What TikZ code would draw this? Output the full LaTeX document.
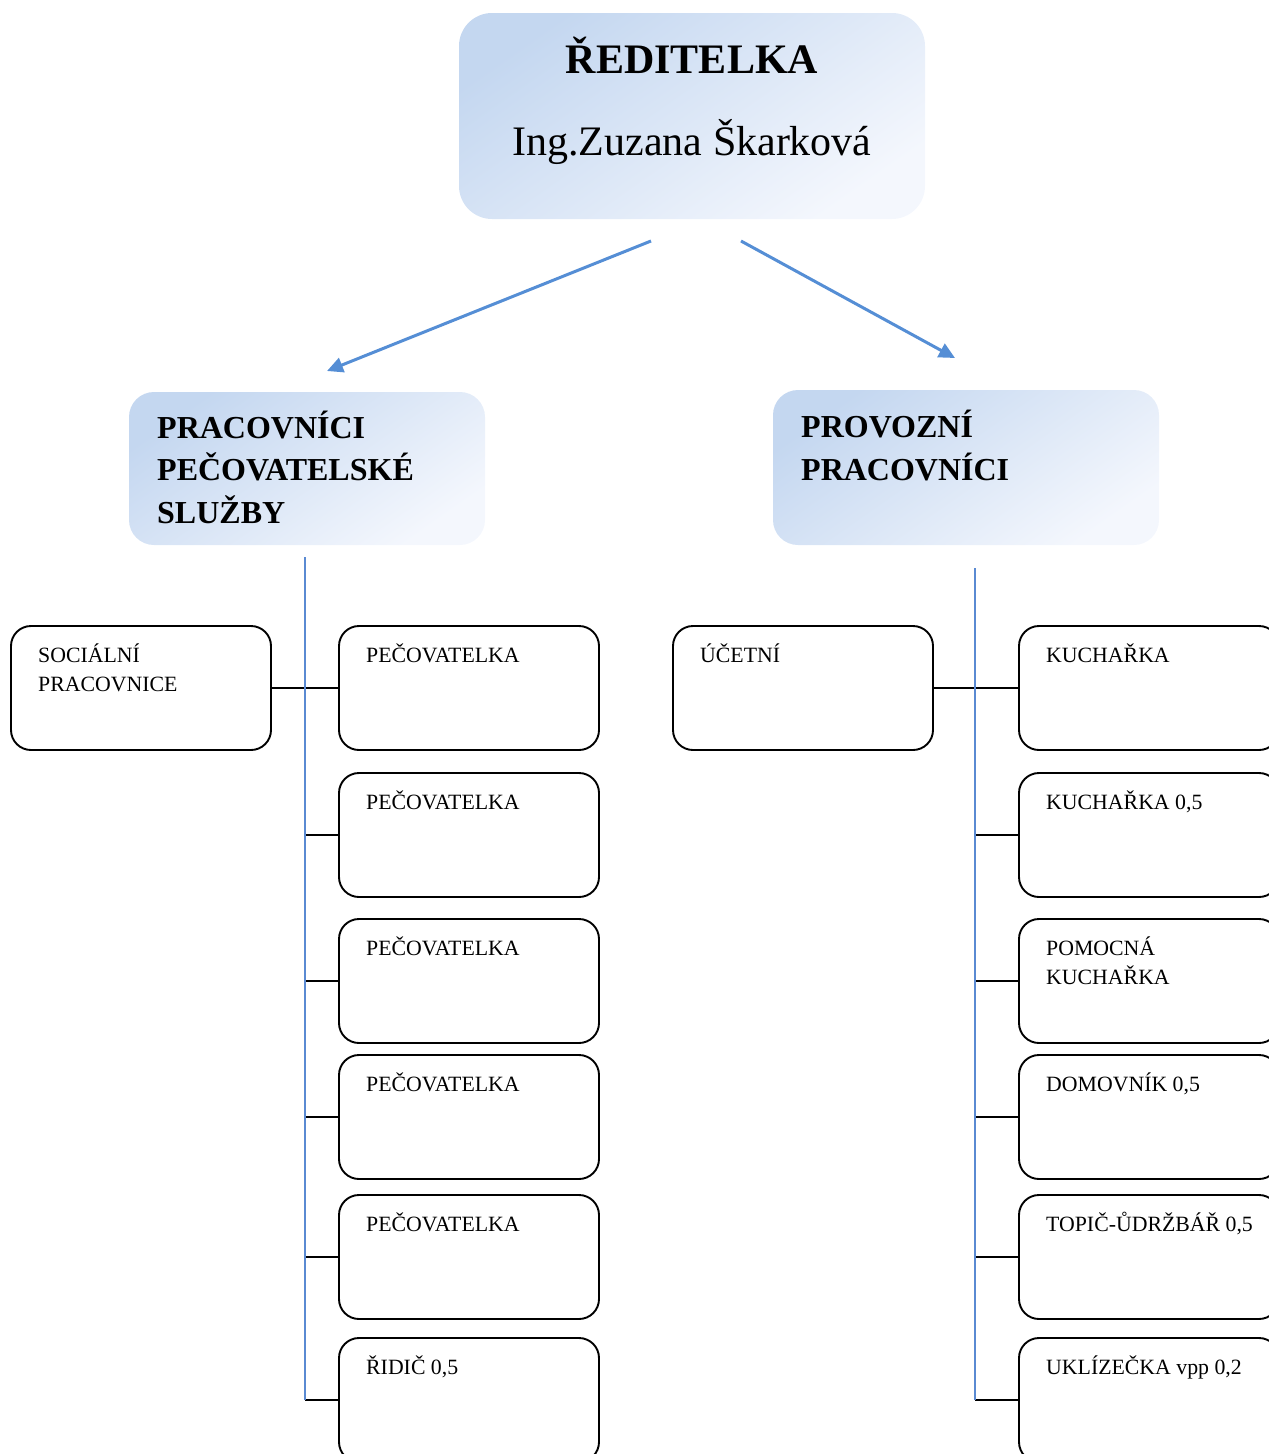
\documentclass[tikz,border=0pt]{standalone}
\usepackage{fontspec}
\setmainfont{Liberation Serif}
\usetikzlibrary{arrows.meta}
\definecolor{arrowblue}{HTML}{558ED5}
\definecolor{lineblue}{HTML}{5A8AD2}
\definecolor{gradA}{HTML}{C4D7F0}
\definecolor{gradB}{HTML}{F4F7FD}
\begin{document}
\begin{tikzpicture}[x=1pt,y=-1pt,
  headbox/.style={rounded corners=#1, inner sep=0pt, outer sep=0pt, anchor=north west,
    top color=gradA, bottom color=gradB, shading angle=35},
  rolebox/.style={draw=black, line width=1.9pt, rounded corners=20pt, inner sep=0pt, outer sep=0pt,
    anchor=north west, minimum width=260pt, minimum height=124pt},
  roletext/.style={anchor=base west, inner sep=0pt, align=left, font=\fontsize{21.8}{29}\selectfont},
  headtext/.style={anchor=base west, inner sep=0pt, align=left, font=\fontsize{32}{42.5}\selectfont\bfseries},
  conn/.style={draw=black, line width=1.9pt},
  vline/.style={draw=lineblue, line width=2.2pt},
  arrowline/.style={draw=arrowblue, line width=3pt, -{Triangle[length=16pt,width=15pt]}}
]
\useasboundingbox (0,0) rectangle (1269,1454);
\clip (0,0) rectangle (1269,1454);

% top box
\node[headbox=33pt, minimum width=466pt, minimum height=206pt] (top) at (459,13) {};
\node[anchor=base, inner sep=0pt, font=\fontsize{42}{48}\selectfont\bfseries] (title) at (692,73) {ŘEDITELKA};
\node[anchor=base, inner sep=0pt, font=\fontsize{42}{48}\selectfont] (name) at (692,155) {Ing.Zuzana Škarková};

% middle boxes (base anchor = last line)
\node[headbox=25pt, minimum width=356pt, minimum height=153pt] (care) at (129,392) {};
\node[headtext] (caret) at (157,523) {PRACOVNÍCI\\PEČOVATELSKÉ\\SLUŽBY};
\node[headbox=25pt, minimum width=386pt, minimum height=155pt] (oper) at (773,390) {};
\node[headtext] (opert) at (801,480) {PROVOZNÍ\\PRACOVNÍCI};

% arrows
\coordinate (a1s) at (651,241);
\coordinate (a1e) at (327,371);
\coordinate (a2s) at (741,241);
\coordinate (a2e) at (955,358);
\draw[arrowline] (a1s) -- (a1e);
\draw[arrowline] (a2s) -- (a2e);

% left column
\node[rolebox] (soc) at (11,626) {};
\node[roletext] (soct) at (38,691) {SOCIÁLNÍ\\PRACOVNICE};
\node[rolebox] (p1) at (339,626) {};
\node[roletext] (p1t) at (366,662) {PEČOVATELKA};
\node[rolebox] (p2) at (339,773) {};
\node[roletext] (p2t) at (366,809) {PEČOVATELKA};
\node[rolebox] (p3) at (339,919) {};
\node[roletext] (p3t) at (366,955) {PEČOVATELKA};
\node[rolebox] (p4) at (339,1055) {};
\node[roletext] (p4t) at (366,1091) {PEČOVATELKA};
\node[rolebox] (p5) at (339,1195) {};
\node[roletext] (p5t) at (366,1231) {PEČOVATELKA};
\node[rolebox] (p6) at (339,1338) {};
\node[roletext] (p6t) at (366,1374) {ŘIDIČ 0,5};

% right column
\node[rolebox] (ucet) at (673,626) {};
\node[roletext] (ucett) at (700,662) {ÚČETNÍ};
\node[rolebox] (k1) at (1019,626) {};
\node[roletext] (k1t) at (1046,662) {KUCHAŘKA};
\node[rolebox] (k2) at (1019,773) {};
\node[roletext] (k2t) at (1046,809) {KUCHAŘKA 0,5};
\node[rolebox] (k3) at (1019,919) {};
\node[roletext] (k3t) at (1046,984) {POMOCNÁ\\KUCHAŘKA};
\node[rolebox] (k4) at (1019,1055) {};
\node[roletext] (k4t) at (1046,1091) {DOMOVNÍK 0,5};
\node[rolebox] (k5) at (1019,1195) {};
\node[roletext] (k5t) at (1046,1231) {TOPIČ-ŮDRŽBÁŘ 0,5};
\node[rolebox] (k6) at (1019,1338) {};
\node[roletext] (k6t) at (1046,1374) {UKLÍZEČKA vpp 0,2};

% spine coordinates
\coordinate (lt) at (305,557);
\coordinate (lb) at (305,1400);
\coordinate (rt) at (975,568);
\coordinate (rb) at (975,1400);

% connectors
\draw[conn] (soc.east) -- (p1.west);
\foreach \b in {p2,p3,p4,p5,p6} \draw[conn] (\b.west -| lt) -- (\b.west);
\draw[conn] (ucet.east) -- (k1.west);
\foreach \b in {k2,k3,k4,k5,k6} \draw[conn] (\b.west -| rt) -- (\b.west);

\draw[vline] (lt) -- (lb);
\draw[vline] (rt) -- (rb);
\end{tikzpicture}
\end{document}
